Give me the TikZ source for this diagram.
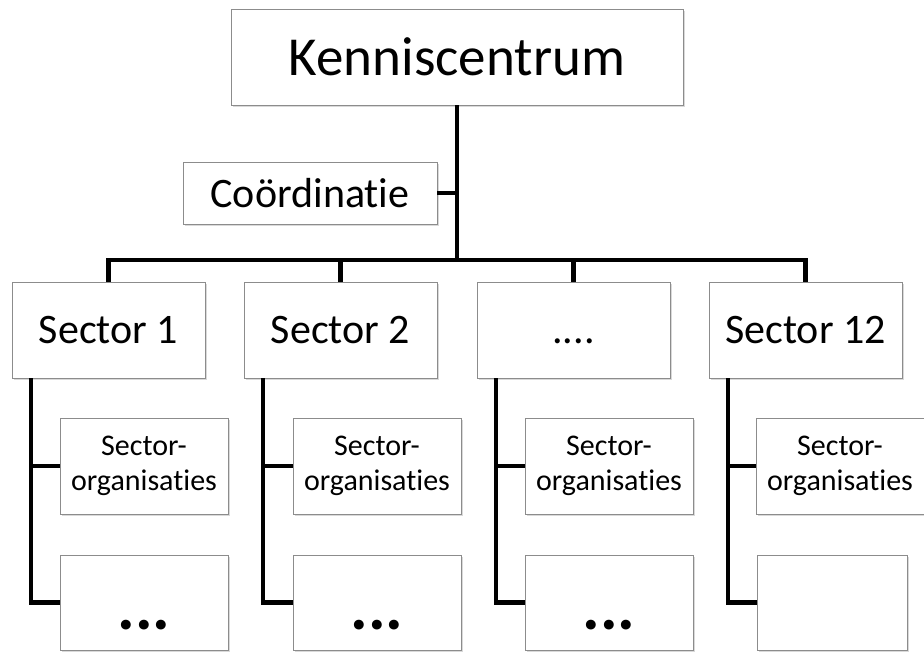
\documentclass[tikz,border=0pt]{standalone}
\usepackage{fontspec}
\setmainfont{Carlito}[Ligatures=NoCommon]
\usetikzlibrary{shadows}

\begin{document}
\begin{tikzpicture}[x=1pt, y=1pt,
  box/.style={draw=black!45, line width=0.8pt, fill=white, inner sep=0pt,
    drop shadow={shadow xshift=1.5pt, shadow yshift=-2pt, opacity=0.3}},
  sectorbox/.style={box, minimum width=193pt, minimum height=96pt, text height=27pt, text depth=0pt, font=\fontsize{42}{48}\selectfont},
  orgbox/.style={box, minimum width=168pt, minimum height=96pt, align=center, font=\fontsize{30}{35}\selectfont},
  dotsbox/.style={box, minimum width=168pt, minimum height=95pt, text height=54pt, text depth=0pt, font=\fontsize{66}{70}\selectfont\bfseries}]

\useasboundingbox (0,0) rectangle (924,653);

\node [box, minimum width=452pt, minimum height=96pt, font=\fontsize{55}{60}\selectfont] (kc) at (457,596) {Kenniscentrum};
\node [box, minimum width=254pt, minimum height=62pt, font=\fontsize{42}{48}\selectfont] (co) at (310,460) {Coördinatie};
\coordinate (split) at (457,393);

\node [sectorbox] (s1) at (108.5,323) {Sector 1};
\node [sectorbox] (s2) at (340.5,323) {Sector 2};
\node [sectorbox] (s3) at (573.5,323) {....};
\node [sectorbox] (s12) at (805.5,323) {Sector 12};

\node [orgbox] (o1) at (144,187) {Sector-\\organisaties};
\node [orgbox] (o2) at (377,187) {Sector-\\organisaties};
\node [orgbox] (o3) at (609,187) {Sector-\\organisaties};
\node [orgbox] (o12) at (840,187) {Sector-\\organisaties};

\node [dotsbox] (d1) at (144,50.5) {...};
\node [dotsbox] (d2) at (377,50.5) {...};
\node [dotsbox] (d3) at (609,50.5) {...};
\node [dotsbox, minimum width=150pt] (d12) at (832,50.5) {};

\begin{scope}[line width=4.5pt]
\draw (kc) -- (split); %kc-split
\draw (co) -- (co -| split); %co-trunk
\draw (s1) |- (split) -| (s12); %s1-s12
\draw (s2) -- (s2 |- split); %s2-bar
\draw (s3) -- (s3 |- split); %s3-bar
\draw ([xshift=19.5pt]s1.south west) |- (o1); %s1-o1
\draw ([xshift=19.5pt]s1.south west) |- (d1); %s1-d1
\draw ([xshift=19.5pt]s2.south west) |- (o2); %s2-o2
\draw ([xshift=19.5pt]s2.south west) |- (d2); %s2-d2
\draw ([xshift=19.5pt]s3.south west) |- (o3); %s3-o3
\draw ([xshift=19.5pt]s3.south west) |- (d3); %s3-d3
\draw ([xshift=19.5pt]s12.south west) |- (o12); %s12-o12
\draw ([xshift=19.5pt]s12.south west) |- (d12); %s12-d12
\end{scope}

\end{tikzpicture}
\end{document}
